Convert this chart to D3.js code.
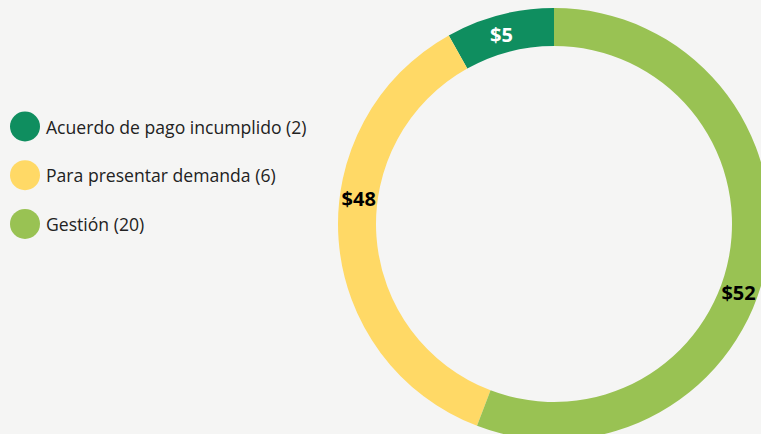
<!DOCTYPE html>
<html>
<head>
<meta charset="utf-8">
<script src="https://cdn.jsdelivr.net/npm/d3@7"></script>
<style>
  html, body { margin: 0; padding: 0; background: #f5f5f4; }
  svg { display: block; font-family: "Open Sans", "DejaVu Sans", sans-serif; }
</style>
</head>
<body>
<div id="chart"></div>
<script>
// Data
const categories = ["Acuerdo de pago incumplido (2)", "Para presentar demanda (6)", "Gestión (20)"];
const shares = [8.1, 36.1, 55.8];          // share of the ring, in %
const valueLabels = ["$5", "$48", "$52"];
const colors = ["#0f8e5f", "#ffd966", "#99c253"];

const W = 761, H = 434;
const cx = 554, cy = 224;
const outerR = 216, innerR = 178;

const svg = d3.select("#chart")
    .append("svg")
    .attr("width", W)
    .attr("height", H);

svg.append("rect")
    .attr("width", W)
    .attr("height", H)
    .attr("fill", "#f5f5f4");

// Slices run counter-clockwise from 12 o'clock
const pie = d3.pie()
    .sort(null)
    .startAngle(0)
    .endAngle(-2 * Math.PI);

const arcs = pie(shares);

const arc = d3.arc()
    .innerRadius(innerR)
    .outerRadius(outerR);

const ring = svg.append("g")
    .attr("transform", "translate(" + cx + "," + cy + ")");

ring.selectAll("path")
    .data(arcs)
    .enter()
    .append("path")
    .attr("d", arc)
    .attr("fill", (d, i) => colors[i]);

// where along each slice its label sits (the source didn't use the exact middle)
const labelFrac = [0.53, 0.41, 0.45];
const labelR = 197;

ring.selectAll("text")
    .data(arcs)
    .enter()
    .append("text")
    .attr("x", (d, i) => labelR * Math.sin(d.startAngle + labelFrac[i] * (d.endAngle - d.startAngle)))
    .attr("y", (d, i) => -labelR * Math.cos(d.startAngle + labelFrac[i] * (d.endAngle - d.startAngle)))
    .attr("text-anchor", "middle")
    .attr("dominant-baseline", "central")
    .attr("font-size", 20)
    .attr("font-weight", 700)
    .attr("fill", (d, i) => i === 0 ? "#ffffff" : "#000000")
    .text((d, i) => valueLabels[i]);

// Legend
const legend = svg.append("g")
    .attr("transform", "translate(25, 126.5)");

const item = legend.selectAll("g")
    .data(categories)
    .enter()
    .append("g")
    .attr("transform", (d, i) => "translate(0," + (i * 48.7) + ")");

item.append("circle")
    .attr("r", 15)
    .attr("fill", (d, i) => colors[i]);

item.append("text")
    .attr("x", 21)
    .attr("y", 0)
    .attr("dominant-baseline", "central")
    .attr("font-size", 17.6)
    .attr("fill", "#222222")
    .text(d => d);
</script>
</body>
</html>
